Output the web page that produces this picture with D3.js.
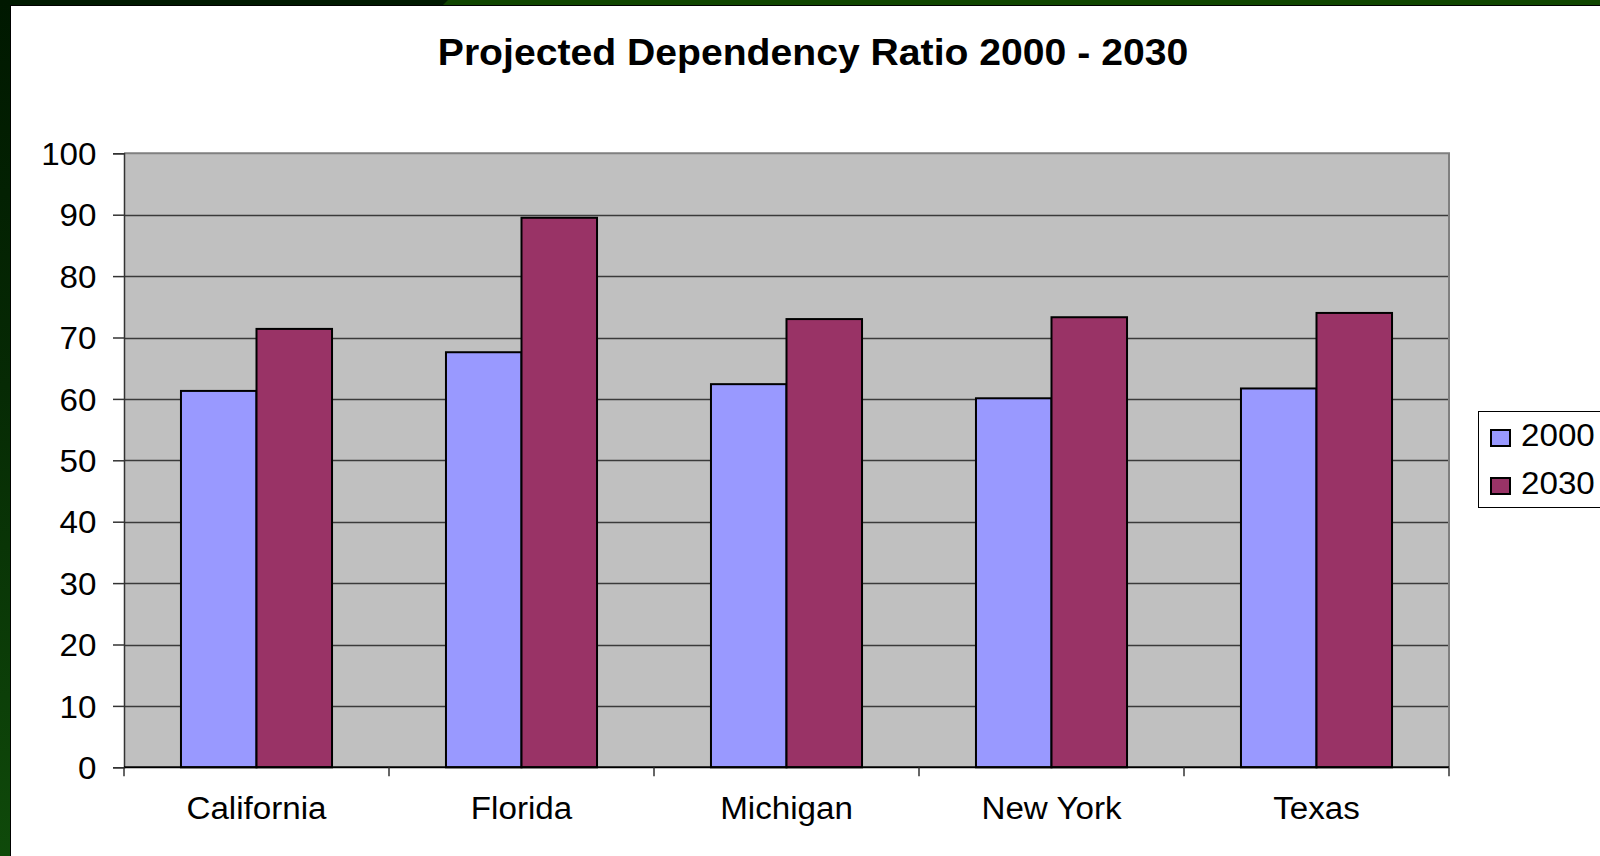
<!DOCTYPE html>
<html>
<head>
<meta charset="utf-8">
<script src="https://cdn.jsdelivr.net/npm/d3@7"></script>
<style>
  html, body { margin: 0; padding: 0; background: #fff; }
  svg { display: block; }
  text { font-family: "Liberation Sans", Arial, sans-serif; fill: #000; }
</style>
</head>
<body>
<svg id="chart" width="1600" height="856"></svg>
<script>
const categories = ["California", "Florida", "Michigan", "New York", "Texas"];
const seriesNames = ["2000", "2030"];
const values2000 = [61.3, 67.6, 62.4, 60.1, 61.7];
const values2030 = [71.4, 89.5, 73.0, 73.3, 74.0];
const yTicks = [0, 10, 20, 30, 40, 50, 60, 70, 80, 90, 100];
const titleText = "Projected Dependency Ratio 2000 - 2030";
const colors = ["#9999ff", "#993366"];

const svg = d3.select("#chart");
const SX = 1.07;

// frame decoration
const defs = svg.append("defs");
const lg = defs.append("linearGradient").attr("id", "leftGrad")
  .attr("x1", 0).attr("y1", 0).attr("x2", 0).attr("y2", 1);
lg.append("stop").attr("offset", "0").attr("stop-color", "#001800");
lg.append("stop").attr("offset", "0.45").attr("stop-color", "#062a04");
lg.append("stop").attr("offset", "1").attr("stop-color", "#0f4a0a");
svg.append("rect").attr("x", 0).attr("y", 0).attr("width", 1600).attr("height", 5).attr("fill", "#104600");
svg.append("path").attr("d", "M0,0 L448,0 L443,5 L0,5 Z").attr("fill", "#001a00");
svg.append("rect").attr("x", 0).attr("y", 0).attr("width", 10).attr("height", 856).attr("fill", "url(#leftGrad)");
svg.append("line").attr("x1", 10).attr("x2", 1600).attr("y1", 5.5).attr("y2", 5.5).attr("stroke", "#000").attr("stroke-width", 1);
svg.append("line").attr("x1", 10.5).attr("x2", 10.5).attr("y1", 5).attr("y2", 856).attr("stroke", "#000").attr("stroke-width", 1);

const pLeft = 124, pRight = 1449, pTop = 153.3, pBottom = 767.3;

const x0 = d3.scaleBand().domain(categories).range([pLeft, pRight])
  .paddingInner(0.43).paddingOuter(0.215);
const x1 = d3.scaleBand().domain(seriesNames).range([0, x0.bandwidth()]);
const y = d3.scaleLinear().domain([0, 100]).range([pBottom, pTop]);

// plot background
svg.append("rect").attr("x", pLeft).attr("y", pTop).attr("width", pRight - pLeft).attr("height", pBottom - pTop)
  .attr("fill", "#c0c0c0");

// gridlines
svg.append("g").selectAll("line").data(yTicks.filter(d => d > 0 && d < 100)).join("line")
  .attr("x1", pLeft).attr("x2", pRight)
  .attr("y1", d => Math.round(y(d)) + 0.5).attr("y2", d => Math.round(y(d)) + 0.5)
  .attr("stroke", "#3a3a3a").attr("stroke-width", 1.5);

// plot border (top/right gray)
svg.append("path")
  .attr("d", `M${pLeft},${pTop} L${pRight},${pTop} L${pRight},${pBottom}`)
  .attr("fill", "none").attr("stroke", "#808080").attr("stroke-width", 2);

// bars
const data = categories.map((c, i) => ({ cat: c, vals: [values2000[i], values2030[i]] }));
const groups = svg.append("g").selectAll("g").data(data).join("g")
  .attr("transform", d => `translate(${x0(d.cat)},0)`);
groups.selectAll("rect").data(d => d.vals.map((v, j) => ({ key: seriesNames[j], v, j }))).join("rect")
  .attr("x", d => x1(d.key))
  .attr("y", d => y(d.v))
  .attr("width", x1.bandwidth())
  .attr("height", d => y(0) - y(d.v))
  .attr("fill", d => colors[d.j])
  .attr("stroke", "#000").attr("stroke-width", 2);

// y axis
const yAxis = d3.axisLeft(y).tickValues(yTicks).tickSize(11).tickPadding(16).tickFormat(d3.format("d"));
const yg = svg.append("g").attr("transform", `translate(${pLeft},0)`).call(yAxis);
yg.select(".domain").attr("stroke", "#333").attr("stroke-width", 1.5);
yg.selectAll(".tick line").attr("stroke", "#333").attr("stroke-width", 1.5);
yg.selectAll(".tick text").attr("font-size", 31).attr("font-family", "Liberation Sans, Arial, sans-serif")
  .attr("x", -27.5 / SX)
  .attr("transform", `scale(${SX},1)`)
  .attr("dy", "0.36em").attr("fill", "#000");

// x axis with boundary ticks
const xg = svg.append("g");
xg.append("line").attr("x1", pLeft).attr("x2", pRight).attr("y1", pBottom).attr("y2", pBottom)
  .attr("stroke", "#000").attr("stroke-width", 2);
const boundaries = categories.map(c => x0(c) - x0.step() * x0.paddingInner() / 2)
  .concat([pRight]);
xg.selectAll("line.tk").data(boundaries).join("line").attr("class", "tk")
  .attr("x1", d => d).attr("x2", d => d).attr("y1", pBottom).attr("y2", pBottom + 9)
  .attr("stroke", "#333").attr("stroke-width", 1.5);
xg.selectAll("text").data(categories).join("text")
  .attr("transform", d => `translate(${x0(d) + x0.bandwidth() / 2},819) scale(${SX},1)`)
  .attr("text-anchor", "middle")
  .attr("font-size", 31)
  .text(d => d);

// title
svg.append("text").attr("transform", "translate(813,65) scale(1.058,1)").attr("text-anchor", "middle")
  .attr("font-size", 37).attr("font-weight", "bold").text(titleText);

// legend
const leg = svg.append("g");
leg.append("rect").attr("x", 1478.5).attr("y", 411.5).attr("width", 140).attr("height", 96)
  .attr("fill", "#fff").attr("stroke", "#000").attr("stroke-width", 1);
const legY = [438, 486];
seriesNames.forEach((s, i) => {
  leg.append("rect").attr("x", 1491).attr("y", legY[i] - 8).attr("width", 19).attr("height", 16)
    .attr("fill", colors[i]).attr("stroke", "#000").attr("stroke-width", 2);
  leg.append("text").attr("transform", `translate(1521,${legY[i] + 8}) scale(${SX},1)`)
    .attr("font-size", 31).text(s);
});
</script>
</body>
</html>
